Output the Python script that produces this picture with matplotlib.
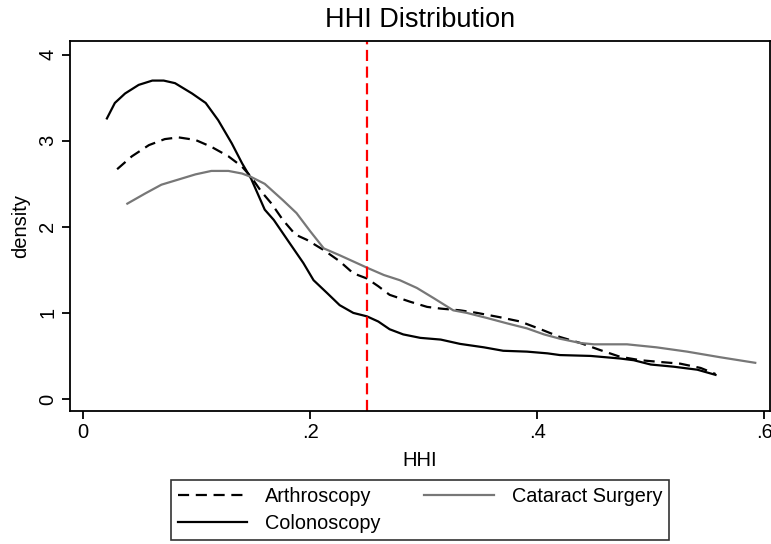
import numpy as np
import matplotlib.pyplot as plt

plt.rcParams['font.family'] = ['Liberation Sans', 'DejaVu Sans']

# kernel density curves
colon_x = [0.021, 0.028, 0.037, 0.049, 0.061, 0.071, 0.081, 0.096, 0.108, 0.119,
           0.131, 0.140, 0.148, 0.155, 0.160, 0.168, 0.182, 0.194, 0.203, 0.215,
           0.226, 0.238, 0.250, 0.260, 0.270, 0.282, 0.297, 0.315, 0.332, 0.353,
           0.370, 0.391, 0.409, 0.420, 0.447, 0.473, 0.485, 0.500, 0.520, 0.541,
           0.557]
colon_y = [3.26, 3.44, 3.55, 3.65, 3.70, 3.70, 3.67, 3.55, 3.44, 3.24,
           2.97, 2.74, 2.56, 2.35, 2.20, 2.08, 1.81, 1.58, 1.38, 1.23,
           1.09, 1.00, 0.96, 0.90, 0.81, 0.75, 0.71, 0.69, 0.64, 0.60,
           0.56, 0.55, 0.53, 0.51, 0.50, 0.47, 0.45, 0.40, 0.375, 0.34,
           0.28]

arthro_x = [0.030, 0.043, 0.058, 0.072, 0.084, 0.099, 0.113, 0.128, 0.140, 0.148,
            0.157, 0.166, 0.176, 0.187, 0.197, 0.212, 0.226, 0.238, 0.250, 0.260,
            0.270, 0.288, 0.303, 0.315, 0.332, 0.347, 0.367, 0.385, 0.403, 0.420,
            0.438, 0.455, 0.473, 0.491, 0.508, 0.526, 0.544, 0.557]
arthro_y = [2.67, 2.82, 2.95, 3.02, 3.04, 3.01, 2.93, 2.82, 2.70, 2.58,
            2.41, 2.27, 2.08, 1.91, 1.85, 1.73, 1.60, 1.46, 1.40, 1.31,
            1.21, 1.13, 1.07, 1.05, 1.03, 1.00, 0.95, 0.90, 0.81, 0.72,
            0.65, 0.57, 0.49, 0.45, 0.43, 0.41, 0.36, 0.29]

cat_x = [0.039, 0.055, 0.069, 0.084, 0.099, 0.113, 0.128, 0.140, 0.148, 0.160,
         0.176, 0.188, 0.200, 0.212, 0.226, 0.241, 0.251, 0.265, 0.279, 0.294,
         0.309, 0.326, 0.338, 0.356, 0.373, 0.391, 0.406, 0.420, 0.438, 0.450,
         0.479, 0.505, 0.532, 0.561, 0.592]
cat_y = [2.27, 2.39, 2.49, 2.55, 2.61, 2.65, 2.65, 2.62, 2.58, 2.50,
         2.31, 2.16, 1.95, 1.75, 1.67, 1.58, 1.52, 1.44, 1.38, 1.29,
         1.17, 1.03, 1.00, 0.94, 0.88, 0.82, 0.75, 0.70, 0.65, 0.635,
         0.635, 0.60, 0.55, 0.485, 0.42]

cutoff = 0.25

fig = plt.figure(figsize=(7.71, 5.44), dpi=100)
ax = fig.add_axes([70 / 771, 133 / 544, 700 / 771, 370 / 544])

l1, = ax.plot(arthro_x, arthro_y, color="black", linestyle=(0, (5, 3)), lw=1.6)
l2, = ax.plot(colon_x, colon_y, color="black", lw=1.6)
l3, = ax.plot(cat_x, cat_y, color="#777777", lw=1.6)
ax.axvline(cutoff, color="red", linestyle=(0, (5, 2.5)), lw=1.6)

ax.set_xlim(-0.0115, 0.605)
ax.set_ylim(-0.14, 4.16)
ax.set_xticks([0, 0.2, 0.4, 0.6])
ax.set_xticklabels(["0", ".2", ".4", ".6"])
ax.set_yticks([0, 1, 2, 3, 4])
ax.set_yticklabels(["0", "1", "2", "3", "4"], rotation=90, va="center")
ax.tick_params(direction="out", length=6, width=1.3, labelsize=14.5, pad=3)
for s in ax.spines.values():
    s.set_linewidth(1.3)

ax.set_xlabel("HHI", fontsize=14.5, labelpad=6)
ax.set_ylabel("density", fontsize=14.5, labelpad=6)
ax.set_title("HHI Distribution", fontsize=19.5, pad=10)

leg = fig.legend([l1, l2, l3], ["Arthroscopy", "Colonoscopy", "Cataract Surgery"],
                 ncol=2, loc="center", bbox_to_anchor=(420 / 771, 1 - 510 / 544),
                 fontsize=14.3, frameon=True, fancybox=False, handlelength=3.5,
                 handletextpad=0.9, columnspacing=2.2, labelspacing=0.4,
                 borderpad=0.35, borderaxespad=0)
leg.get_frame().set_edgecolor("black")
leg.get_frame().set_linewidth(1.2)

fig.savefig("out.png", dpi=100)
